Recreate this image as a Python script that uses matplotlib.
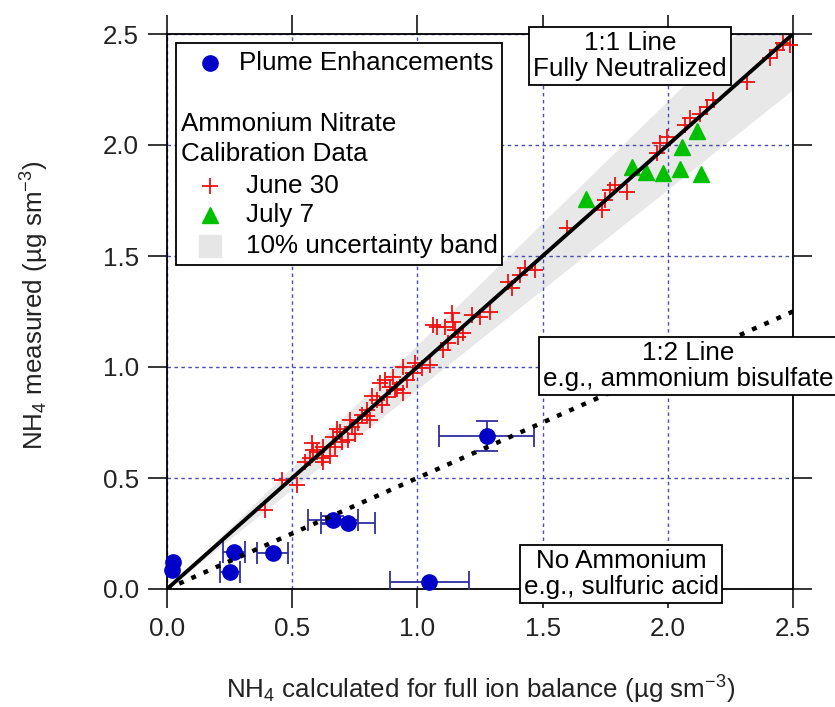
import numpy as np
from matplotlib import pyplot as plt
from matplotlib.lines import Line2D
from matplotlib.patches import Rectangle

plt.rcParams['font.family'] = ['Liberation Sans', 'DejaVu Sans']
plt.rcParams['mathtext.fontset'] = 'custom'
plt.rcParams['mathtext.rm'] = 'Liberation Sans'
plt.rcParams['mathtext.it'] = 'Liberation Sans:italic'
plt.rcParams['mathtext.default'] = 'regular'

# Plume enhancements (with uncertainties)
plume_x = [0.023, 0.019, 0.268, 0.252, 0.422, 0.662, 0.724, 1.048, 1.277]
plume_y = [0.123, 0.086, 0.168, 0.078, 0.161, 0.311, 0.299, 0.030, 0.689]
plume_xerr = [0.0, 0.0, 0.045, 0.040, 0.062, 0.100, 0.107, 0.157, 0.190]
plume_yerr = [0.0, 0.0, 0.0, 0.0, 0.0, 0.020, 0.0, 0.0, 0.066]

# Ammonium nitrate calibration, June 30
june30_x = [0.391, 0.458, 0.518, 0.550, 0.571, 0.584, 0.578, 0.598, 0.618, 0.624,
            0.623, 0.650, 0.664, 0.671, 0.680, 0.691, 0.700, 0.724, 0.730, 0.738,
            0.750, 0.764, 0.778, 0.797, 0.800, 0.811, 0.820, 0.837, 0.851, 0.860,
            0.871, 0.877, 0.890, 0.904, 0.911, 0.920, 0.944, 0.944, 0.960, 0.984,
            0.990, 1.017, 1.050, 1.064, 1.077, 1.104, 1.110, 1.124, 1.137, 1.144,
            1.150, 1.164, 1.184, 1.218, 1.250, 1.290, 1.363, 1.377, 1.410, 1.430,
            1.470, 1.596, 1.736, 1.749, 1.769, 1.789, 1.836, 1.956, 1.969, 1.996,
            2.069, 2.089, 2.130, 2.155, 2.182, 2.315, 2.408, 2.435, 2.461, 2.488]
june30_y = [0.356, 0.491, 0.468, 0.570, 0.589, 0.626, 0.656, 0.618, 0.589, 0.641,
            0.573, 0.600, 0.686, 0.641, 0.720, 0.709, 0.660, 0.671, 0.760, 0.731,
            0.700, 0.746, 0.784, 0.806, 0.780, 0.761, 0.870, 0.851, 0.927, 0.830,
            0.941, 0.866, 0.910, 0.956, 0.896, 0.900, 1.001, 0.882, 0.940, 0.971,
            1.020, 0.994, 1.009, 1.189, 1.181, 1.077, 1.181, 1.107, 1.242, 1.204,
            1.167, 1.136, 1.152, 1.234, 1.227, 1.249, 1.384, 1.354, 1.414, 1.444,
            1.437, 1.625, 1.707, 1.752, 1.797, 1.820, 1.790, 1.962, 2.008, 2.037,
            2.090, 2.120, 2.140, 2.173, 2.203, 2.285, 2.390, 2.428, 2.458, 2.450]

# Ammonium nitrate calibration, July 7
july7_x = [1.673, 1.856, 1.911, 1.982, 2.050, 2.134, 2.055, 2.118]
july7_y = [1.755, 1.902, 1.880, 1.875, 1.890, 1.869, 1.992, 2.064]

line_x = np.array([0.0, 2.5])
slope_full = 1.0
slope_half = 0.5
band_frac = 0.10

ticks = [0.0, 0.5, 1.0, 1.5, 2.0, 2.5]
tick_labels = ['0.0', '0.5', '1.0', '1.5', '2.0', '2.5']

W, H = 835, 707
FS = 18.7
BLUE = '#0000c8'
ERR = '#2e2e9e'


def px(x, y):
    # pixel position -> figure fraction
    return x / W, 1 - y / H


fig = plt.figure(figsize=(W / 100, H / 100), dpi=100)
ax = fig.add_axes([167 / W, 1 - 589 / H, (793 - 167) / W, (589 - 34) / H])

# 10% band and reference lines
ax.fill_between(line_x, line_x * (1 - band_frac), line_x * (1 + band_frac),
                color='#e8e8e8', lw=0, zorder=0.3)
ax.plot(line_x, slope_full * line_x, color='black', lw=2.8, zorder=6,
        solid_capstyle='butt')
ax.plot(line_x, slope_half * line_x, color='black', lw=3.2,
        ls=(0, (1.1, 1.9)), zorder=6)

ax.plot(june30_x, june30_y, '+', color='#f01010', ms=12, mew=1.3,
        clip_on=False, zorder=4)
ax.plot(july7_x, july7_y, '^', color='#00c000', mec='#00c000', ms=12,
        clip_on=False, zorder=4)

# error bars only where an uncertainty exists
px_arr, py_arr = np.array(plume_x), np.array(plume_y)
xe, ye = np.array(plume_xerr), np.array(plume_yerr)
mx = xe > 0
my = ye > 0
ax.errorbar(px_arr[mx], py_arr[mx], xerr=xe[mx], fmt='none', ecolor=ERR,
            elinewidth=1.3, capsize=8, capthick=1.3, zorder=5)
ax.errorbar(px_arr[my], py_arr[my], yerr=ye[my], fmt='none', ecolor=ERR,
            elinewidth=1.3, capsize=8, capthick=1.3, zorder=5)
ax.plot(px_arr, py_arr, 'o', color=BLUE, ms=11, zorder=5.5, clip_on=False)

ax.set_xlim(0, 2.5)
ax.set_ylim(0, 2.5)
ax.set_xticks(ticks)
ax.set_xticklabels(tick_labels)
ax.set_yticks(ticks)
ax.set_yticklabels(tick_labels)
ax.grid(True, color='#4a4ab8', ls=(0, (2.5, 2.5)), lw=1.0)
ax.set_axisbelow(True)
for s in ax.spines.values():
    s.set_linewidth(1.3)
ax.tick_params(direction='out', length=14, width=1.1, top=True, right=True,
               labelsize=FS, labelcolor='#222222', pad=6)

# axis labels
fig.text(*px(481, 690), r'NH$_4$ calculated for full ion balance (µg sm$^{-3}$)',
         ha='center', va='center', fontsize=FS, color='#222222')
fig.text(*px(35, 305), r'NH$_4$ measured (µg sm$^{-3}$)', rotation=90,
         ha='center', va='center', fontsize=FS, color='#222222')

# legend drawn by hand
x0, y0 = px(176, 265)
x1, y1 = px(502, 43)
fig.add_artist(Rectangle((x0, y0), x1 - x0, y1 - y0, transform=fig.transFigure,
                         fc='white', ec='black', lw=1.3, zorder=7))
hx = 210 / W


def leg_mark(y, **kw):
    fig.add_artist(Line2D([hx], [1 - y / H], transform=fig.transFigure,
                          ls='none', zorder=8, **kw))


leg_mark(63, marker='o', color=BLUE, ms=11)
leg_mark(186, marker='+', color='#f01010', ms=12, mew=1.3)
leg_mark(215, marker='^', color='#00c000', ms=12)
leg_mark(246, marker='s', color='#e6e6e6', ms=16)
fig.text(*px(239, 63), 'Plume Enhancements', va='center', fontsize=FS, zorder=8)
fig.text(*px(181, 124), 'Ammonium Nitrate', va='center', fontsize=FS, zorder=8)
fig.text(*px(181, 154), 'Calibration Data', va='center', fontsize=FS, zorder=8)
fig.text(*px(246, 186), 'June 30', va='center', fontsize=FS, zorder=8)
fig.text(*px(246, 215), 'July 7', va='center', fontsize=FS, zorder=8)
fig.text(*px(246, 246), '10% uncertainty band', va='center', fontsize=FS, zorder=8)

# annotation boxes
box = dict(boxstyle='square,pad=0.15', fc='white', ec='black', lw=1.3)
fig.text(*px(630, 56), '1:1 Line\nFully Neutralized', ha='center', va='center',
         multialignment='center', linespacing=1.12, fontsize=FS, bbox=box, zorder=9)
fig.text(*px(688, 366), '1:2 Line\ne.g., ammonium bisulfate', ha='center',
         va='center', multialignment='center', linespacing=1.12, fontsize=FS,
         bbox=box, zorder=9)
fig.text(*px(621, 574), 'No Ammonium\ne.g., sulfuric acid', ha='center',
         va='center', multialignment='center', linespacing=1.12, fontsize=FS,
         bbox=box, zorder=9)

fig.savefig('out.png', dpi=100)
